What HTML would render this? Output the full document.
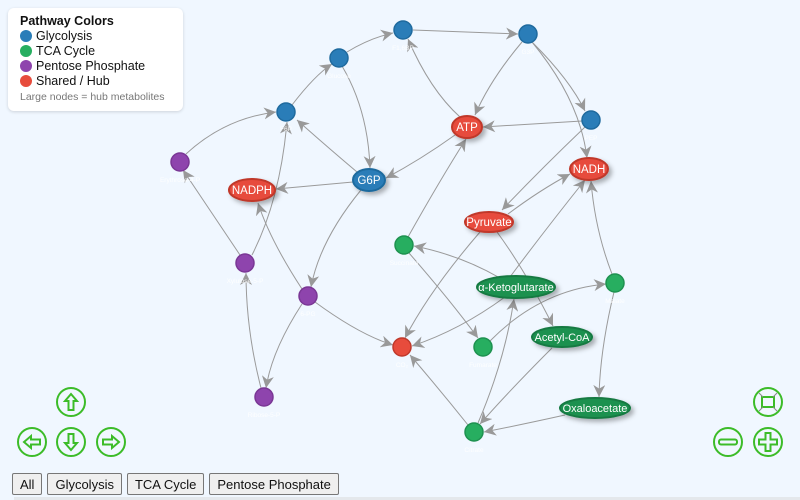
<!DOCTYPE html>
<html><head><meta charset="utf-8">
<style>
html,body{margin:0;padding:0;width:800px;height:500px;overflow:hidden;background:#f0f7ff;font-family:"Liberation Sans",Arial,sans-serif;}
.legend{position:absolute;left:8px;top:8px;width:175px;height:103px;background:#fff;border-radius:6px;box-shadow:0 1px 3px rgba(0,0,0,0.15);box-sizing:border-box;padding:6px 0 0 12px;font-size:12.5px;color:#111;line-height:15px}
.legend b{font-size:12.5px}
.dot{display:inline-block;width:12px;height:12px;border-radius:50%;vertical-align:-2px;margin-right:4px}
.legend .note{font-size:10.5px;color:#777}
.btns{position:absolute;left:12px;top:473px;font-size:13px;white-space:nowrap}
.btns span{display:inline-block;height:22px;line-height:22px;padding:0 7px;border:1px solid #777;border-radius:2px;background:#efefef;margin-right:5px;color:#111;box-sizing:border-box}
.bar{position:absolute;left:14px;top:497px;width:786px;height:3px;background:#e4e8ec}
</style></head><body>
<svg width="800" height="500" style="position:absolute;left:0;top:0">
<defs>
<marker id="a" viewBox="0 0 10 10" refX="10" refY="5" markerWidth="12" markerHeight="12" markerUnits="userSpaceOnUse" orient="auto"><path d="M0,0L10,5L0,10L3,5z" fill="#999"/></marker>
<filter id="sh" x="-50%" y="-50%" width="200%" height="200%"><feDropShadow dx="3" dy="3" stdDeviation="2.5" flood-color="#000" flood-opacity="0.3"/></filter>
</defs>
<g fill="none" stroke="#9a9a9a" stroke-width="1" marker-end="url(#a)">
<path d="M292,105 Q315,75 332,64" marker-end=""/>
<path d="M347,52 Q370,38 393,33"/>
<path d="M413,30 L518,34"/>
<path d="M186,154 Q225,118 276,112"/>
<path d="M357,172 Q325,145 297,120"/>
<path d="M252,255 Q280,200 287,122"/>
<path d="M342,66 Q368,110 370,168"/>
<path d="M455,135 Q420,160 386,178"/>
<path d="M353,182 L276,189"/>
<path d="M460,117 Q430,90 408,39"/>
<path d="M522,42 Q490,80 475,115"/>
<path d="M533,43 Q570,80 585,111"/>
<path d="M532,42 Q580,100 587,158"/>
<path d="M582,121 L483,127"/>
<path d="M585,127 Q540,170 502,210"/>
<path d="M508,214 Q540,190 570,174"/>
<path d="M408,237 Q440,180 466,139"/>
<path d="M240,255 Q210,210 183,170"/>
<path d="M302,289 Q270,240 258,203"/>
<path d="M361,190 Q320,240 311,287"/>
<path d="M302,304 Q272,350 266,388"/>
<path d="M261,388 Q246,330 246,273"/>
<path d="M315,302 Q360,335 393,345"/>
<path d="M480,232 Q430,290 405,338"/>
<path d="M500,278 Q460,255 414,246"/>
<path d="M409,253 Q450,300 478,338"/>
<path d="M490,341 Q540,290 606,284"/>
<path d="M510,277 Q545,230 585,180"/>
<path d="M505,297 Q460,330 412,346"/>
<path d="M497,232 Q525,270 553,326"/>
<path d="M612,274 Q595,230 591,181"/>
<path d="M614,292 Q600,350 599,397"/>
<path d="M565,415 Q520,425 484,432"/>
<path d="M552,348 Q510,390 480,424"/>
<path d="M478,423 Q505,360 514,299"/>
<path d="M468,425 Q440,390 410,355"/>
</g>
<g stroke-width="1.5">
<g fill="#2a7db8" stroke="#1f6a9e">
<circle cx="286" cy="112" r="9"/><circle cx="339" cy="58" r="9"/><circle cx="403" cy="30" r="9"/><circle cx="528" cy="34" r="9"/><circle cx="591" cy="120" r="9"/>
</g>
<g fill="#8e44ad" stroke="#7a3795">
<circle cx="180" cy="162" r="9"/><circle cx="245" cy="263" r="9"/><circle cx="308" cy="296" r="9"/><circle cx="264" cy="397" r="9"/>
</g>
<g fill="#27ae60" stroke="#1e9150">
<circle cx="404" cy="245" r="9"/><circle cx="615" cy="283" r="9"/><circle cx="483" cy="347" r="9"/><circle cx="474" cy="432" r="9"/>
</g>
<circle cx="402" cy="347" r="9" fill="#e74c3c" stroke="#c0392b"/>
<g filter="url(#sh)">
<ellipse cx="467" cy="127" rx="15" ry="11" fill="#e74c3c" stroke="#c0392b" stroke-width="2"/>
<ellipse cx="589" cy="169" rx="19" ry="11" fill="#e74c3c" stroke="#c0392b" stroke-width="2"/>
<ellipse cx="252" cy="190" rx="23" ry="11" fill="#e74c3c" stroke="#c0392b" stroke-width="2"/>
<ellipse cx="489" cy="222" rx="24" ry="10" fill="#e74c3c" stroke="#c0392b" stroke-width="2"/>
<ellipse cx="369" cy="180" rx="16" ry="11" fill="#2a7db8" stroke="#1f6a9e" stroke-width="2"/>
<ellipse cx="516" cy="287" rx="39" ry="11" fill="#1e9150" stroke="#187a43" stroke-width="2"/>
<ellipse cx="562" cy="337" rx="30" ry="10" fill="#1e9150" stroke="#187a43" stroke-width="2"/>
<ellipse cx="595" cy="408" rx="35" ry="10" fill="#1e9150" stroke="#187a43" stroke-width="2"/>
</g>
</g>
<g fill="#fff" font-size="11.5" text-anchor="middle" font-family="Liberation Sans,Arial,sans-serif">
<text x="467" y="131">ATP</text><text x="589" y="173">NADH</text><text x="252" y="194">NADPH</text>
<text x="489" y="226">Pyruvate</text><text x="369" y="184">G6P</text><text x="516" y="291" font-size="11">α-Ketoglutarate</text>
<text x="562" y="341" font-size="11">Acetyl-CoA</text><text x="595" y="412" font-size="11">Oxaloacetate</text>
</g>
<g fill="#fff" font-size="6.5" text-anchor="middle" opacity="0.9">
<text x="286" y="131">F6P</text><text x="339" y="78">Glucose</text><text x="403" y="50">F1,6BP</text><text x="528" y="54">G3P</text><text x="591" y="140">PEP</text>
<text x="180" y="182">Erythrose-4-P</text><text x="245" y="283">Xylulose-5-P</text><text x="308" y="316">6-PG</text><text x="264" y="417">Ribose-5-P</text>
<text x="404" y="265">Succinate</text><text x="615" y="303">Malate</text><text x="483" y="367">Fumarate</text><text x="474" y="452">Citrate</text><text x="402" y="367">CO₂</text>
</g>
<g fill="none" stroke="#3cbc28" stroke-width="2">
<circle cx="71" cy="402" r="14"/><circle cx="32" cy="442" r="14"/><circle cx="71" cy="442" r="14"/><circle cx="111" cy="442" r="14"/>
<circle cx="768" cy="402" r="14"/><circle cx="728" cy="442" r="14"/><circle cx="768" cy="442" r="14"/>
<path d="M71,394 L65,401 L68.5,401 L68.5,410 L73.5,410 L73.5,401 L77,401 Z"/>
<path d="M71,450 L65,443 L68.5,443 L68.5,434 L73.5,434 L73.5,443 L77,443 Z"/>
<path d="M24,442 L31,436 L31,439.5 L40,439.5 L40,444.5 L31,444.5 L31,448 Z"/>
<path d="M119,442 L112,436 L112,439.5 L103,439.5 L103,444.5 L112,444.5 L112,448 Z"/>
<rect x="719" y="439.5" width="18" height="5" rx="2"/>
<path d="M765.5,433 h5 v6.5 h6.5 v5 h-6.5 v6.5 h-5 v-6.5 h-6.5 v-5 h6.5 z"/>
<rect x="762" y="397" width="12" height="10"/>
</g>
<g stroke="#888" stroke-width="1" fill="none">
<path d="M759,393 l4,4 M777,393 l-4,4 M759,411 l4,-4 M777,411 l-4,-4"/>
</g>
</svg>
<div class="legend"><b>Pathway Colors</b><br>
<span class="dot" style="background:#2a7db8"></span>Glycolysis<br>
<span class="dot" style="background:#27ae60"></span>TCA Cycle<br>
<span class="dot" style="background:#8e44ad"></span>Pentose Phosphate<br>
<span class="dot" style="background:#e74c3c"></span>Shared / Hub<br>
<span class="note">Large nodes = hub metabolites</span></div>
<div class="btns"><span>All</span><span>Glycolysis</span><span>TCA Cycle</span><span>Pentose Phosphate</span></div>
<div class="bar"></div>
</body></html>
